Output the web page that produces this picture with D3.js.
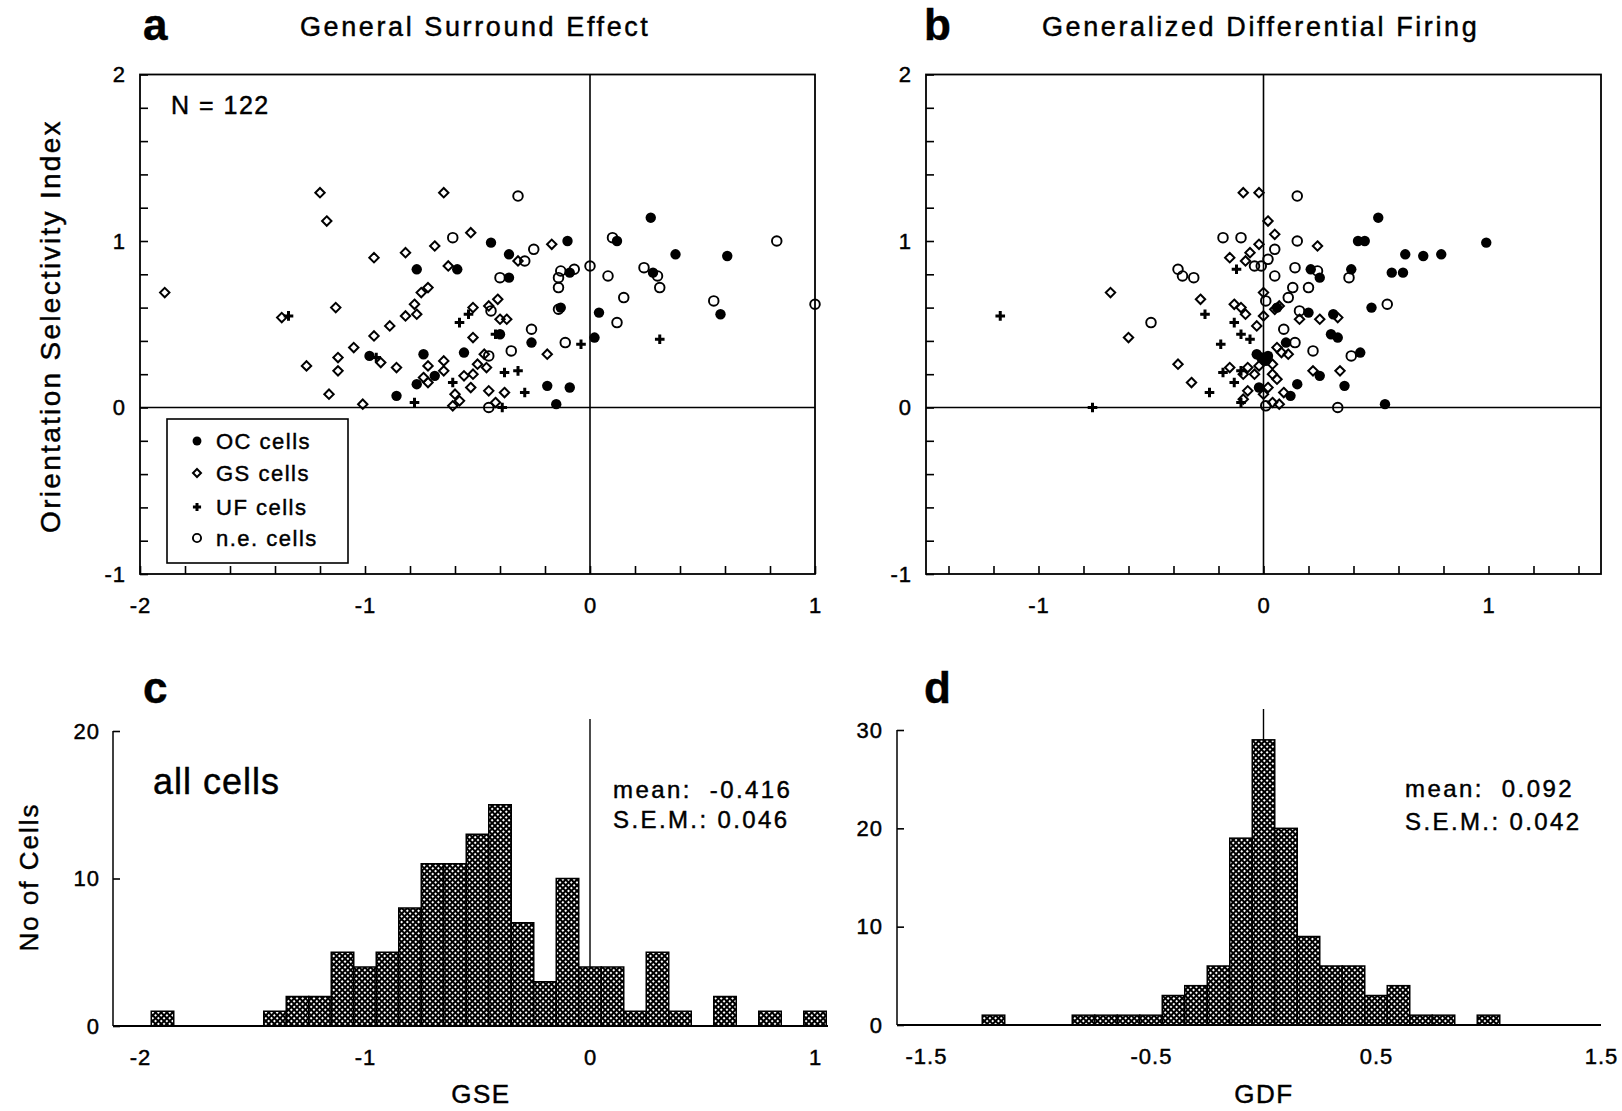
<!DOCTYPE html>
<html>
<head>
<meta charset="utf-8">
<script src="https://cdn.jsdelivr.net/npm/d3@7"></script>
<style>
body { margin: 0; background: #fff; }
svg text { font-family: "Liberation Sans", Arial, Helvetica, sans-serif; fill: #000; stroke: #000; stroke-width: 0.45px; }
</style>
</head>
<body>
<div id="wrapper"></div>
<script>
// panel a: GSE (x) vs orientation selectivity index (y)
const gseOC = [[-0.77,0.83],[-0.59,0.83],[-0.98,0.31],[-0.74,0.32],[-0.56,0.33],[-0.77,0.14],[-0.69,0.19],[-0.86,0.07],
    [0.27,1.14],[-0.44,0.99],[-0.10,1.00],[0.12,1.00],[-0.36,0.92],[0.38,0.92],[0.61,0.91],[-0.36,0.78],[-0.09,0.81],
    [0.28,0.81],[-0.13,0.60],[0.04,0.57],[0.58,0.56],[-0.40,0.44],[-0.26,0.39],[0.02,0.42],[-0.19,0.13],[-0.09,0.12],[-0.15,0.02]]
const gseGS = [[-1.20,1.29],[-1.17,1.12],[-0.65,1.29],[-0.53,1.05],[-0.69,0.97],[-0.82,0.93],[-0.96,0.90],[-0.63,0.85],
    [-1.89,0.69],[-0.72,0.72],[-0.75,0.69],[-0.78,0.62],[-1.13,0.60],[-0.77,0.56],[-0.82,0.55],[-1.37,0.54],[-0.89,0.49],
    [-0.96,0.43],[-1.05,0.36],[-1.12,0.30],[-1.12,0.22],[-1.26,0.25],[-0.93,0.27],[-0.86,0.24],[-1.16,0.08],[-1.01,0.02],
    [-0.52,0.60],[-0.52,0.42],[-0.72,0.25],[-0.65,0.28],[-0.65,0.22],[-0.72,0.15],[-0.74,0.18],[-0.56,0.19],[-0.52,0.20],
    [-0.53,0.12],[-0.50,0.26],[-0.60,0.08],[-0.58,0.04],[-0.61,0.01],[-0.17,0.98],[-0.32,0.88],[-0.41,0.65],[-0.45,0.61],
    [-0.40,0.53],[-0.37,0.53],[-0.19,0.32],[-0.47,0.32],[-0.46,0.24],[-0.45,0.10],[-0.38,0.09],[-0.42,0.03]]
const gseUF = [[-1.34,0.55],[-0.58,0.51],[-0.54,0.56],[-0.61,0.15],[-0.78,0.03],[-0.04,0.38],[0.31,0.41],[-0.38,0.21],
    [-0.32,0.22],[-0.29,0.09],[-0.39,0.00],[-0.42,0.44],[-0.95,0.30]]
const gseNE = [[-0.61,1.02],[-0.32,1.27],[-0.25,0.95],[-0.29,0.88],[-0.40,0.78],[-0.13,0.82],[-0.07,0.83],[-0.14,0.78],
    [-0.14,0.72],[0.00,0.85],[0.10,1.02],[0.08,0.79],[0.24,0.84],[0.30,0.79],[0.31,0.72],[0.15,0.66],[0.55,0.64],[0.83,1.00],
    [1.00,0.62],[0.12,0.51],[-0.26,0.47],[-0.11,0.39],[-0.35,0.34],[-0.45,0.31],[-0.44,0.58],[-0.45,0.00],[-0.14,0.59]]

// panel b: GDF (x) vs orientation selectivity index (y)
const gdfOC = [[0.51,1.14],[0.42,1.00],[0.45,1.00],[0.21,0.83],[0.25,0.78],[0.39,0.83],[0.57,0.81],[0.48,0.60],[0.06,0.60],
    [0.20,0.57],[0.31,0.56],[0.30,0.44],[0.33,0.42],[0.10,0.39],[0.43,0.33],[-0.03,0.32],[-0.01,0.30],[0.02,0.31],[0.01,0.28],
    [0.25,0.19],[0.36,0.13],[0.15,0.14],[0.12,0.07],[-0.02,0.12],[0.54,0.02],[0.99,0.99],[0.63,0.92],[0.71,0.91],[0.79,0.92],[0.62,0.81]]
const gdfGS = [[-0.68,0.69],[-0.60,0.42],[-0.09,1.29],[-0.02,1.29],[0.02,1.12],[0.05,1.04],[-0.02,0.98],[-0.06,0.93],
    [-0.15,0.90],[-0.08,0.88],[0.24,0.97],[-0.28,0.65],[0.00,0.69],[-0.13,0.62],[-0.10,0.60],[-0.08,0.56],[0.00,0.55],
    [0.07,0.61],[0.05,0.59],[-0.03,0.49],[0.16,0.53],[0.25,0.53],[0.33,0.54],[0.06,0.36],[0.08,0.33],[0.11,0.32],[-0.38,0.26],
    [-0.32,0.15],[-0.15,0.24],[-0.07,0.24],[-0.09,0.20],[-0.04,0.20],[-0.02,0.25],[0.04,0.26],[0.04,0.20],[0.06,0.17],
    [-0.07,0.10],[0.02,0.12],[0.00,0.08],[0.09,0.09],[-0.09,0.05],[0.04,0.03],[0.07,0.02],[0.22,0.22],[0.34,0.22]]
const gdfUF = [[-1.17,0.55],[-0.76,0.00],[-0.12,0.83],[-0.26,0.56],[-0.13,0.51],[-0.10,0.44],[-0.06,0.41],[-0.19,0.38],
    [-0.18,0.21],[-0.10,0.22],[-0.13,0.15],[-0.24,0.09],[-0.10,0.03]]
const gdfNE = [[-0.50,0.51],[0.15,1.27],[-0.18,1.02],[-0.10,1.02],[0.15,1.00],[0.05,0.95],[0.02,0.89],[-0.04,0.85],
    [-0.01,0.85],[-0.38,0.83],[-0.36,0.79],[-0.31,0.78],[0.14,0.84],[0.24,0.82],[0.05,0.79],[0.38,0.78],[0.20,0.72],
    [0.13,0.72],[0.11,0.66],[0.01,0.64],[0.55,0.62],[0.16,0.58],[0.09,0.47],[0.14,0.39],[0.22,0.34],[0.39,0.31],[0.33,0.00],[0.01,0.01]]

// panels c and d: histograms, bin centres (width 0.1) and counts
const gseBins = [-1.9,-1.4,-1.3,-1.2,-1.1,-1.0,-0.9,-0.8,-0.7,-0.6,-0.5,-0.4,-0.3,-0.2,-0.1,0,0.1,0.2,0.3,0.4,0.6,0.8,1.0]
const gseCounts = [1,1,2,2,5,4,5,8,11,11,13,15,7,3,10,4,4,1,5,1,2,1,1]
const gdfBins = [-1.2,-0.8,-0.7,-0.6,-0.5,-0.4,-0.3,-0.2,-0.1,0,0.1,0.2,0.3,0.4,0.5,0.6,0.7,0.8,1.0]
const gdfCounts = [1,1,1,1,1,3,4,6,19,29,20,9,6,6,3,4,1,1,1]

// tick values
const osiTicks = d3.range(-5, 11).map(i => i / 5)
const gseTicks = d3.range(-10, 6).map(i => i / 5)
const gdfTicks = d3.range(-7, 8).map(i => i / 5)
const gseLabels = [-2, -1, 0, 1]
const gdfLabels = [-1.5, -0.5, 0.5, 1.5]
const countTicksC = [0, 10, 20]
const countTicksD = [0, 10, 20, 30]
const legendLabels = ['OC cells', 'GS cells', 'UF cells', 'n.e. cells']

const svg = d3.select('#wrapper').append('svg')
    .attr('width', 1622)
    .attr('height', 1111)

const defs = svg.append('defs')
const hatch = defs.append('pattern')
    .attr('id', 'hatch')
    .attr('patternUnits', 'userSpaceOnUse')
    .attr('width', 4).attr('height', 4)
    .attr('patternTransform', 'rotate(45)')
hatch.append('rect').attr('width', 4).attr('height', 4).attr('fill', '#fff')
hatch.append('path').attr('d', 'M0,2H4M2,0V4').attr('stroke', '#000').attr('stroke-width', 2)

const gseX = d3.scaleLinear().domain([-2, 1]).range([140, 815])
const gdfX = d3.scaleLinear().domain([-1.5, 1.5]).range([926, 1601])
const osiY = d3.scaleLinear().domain([-1, 2]).range([574, 74.5])
const cY = d3.scaleLinear().domain([0, 20]).range([1026, 731])
const dY = d3.scaleLinear().domain([0, 30]).range([1025, 730])

const intLabel = d => Math.abs(d - Math.round(d)) < 1e-9 ? String(Math.round(d)) : ''

function styleAxis(g, size) {
    g.select('.domain').remove()
    g.selectAll('.tick line').attr('stroke', '#000').attr('stroke-width', 1.6)
    g.selectAll('.tick text').attr('font-size', size || 22).style('letter-spacing', '1px')
}

const diamond = r => `M0,${-r}L${r},0L0,${r}L${-r},0Z`
const plus = r => `M${-r},0H${r}M0,${-r}V${r}`

function drawMarker(sel, kind, s) {
    if (kind == 'oc') {
        sel.append('circle').attr('r', 5.2 * s).attr('fill', '#000')
    } else if (kind == 'gs') {
        sel.append('path').attr('d', diamond(4.7 * s)).attr('fill', 'none').attr('stroke', '#000').attr('stroke-width', 2)
    } else if (kind == 'uf') {
        sel.append('path').attr('d', plus(4.8 * s)).attr('stroke', '#000').attr('stroke-width', 3)
    } else {
        sel.append('circle').attr('r', 4.8 * s).attr('fill', 'none').attr('stroke', '#000').attr('stroke-width', 1.9)
    }
}

function scatterPanel(xScale, xTicks, groups) {
    const left = xScale.range()[0]
    const right = xScale.range()[1]
    const top = osiY(2)
    const bottom = osiY(-1)
    const g = svg.append('g')

    g.append('g')
        .attr('transform', `translate(${left},0)`)
        .call(d3.axisLeft(osiY).tickValues(osiTicks).tickSizeInner(-8).tickSizeOuter(0).tickPadding(14).tickFormat(intLabel))
        .call(styleAxis)
    g.append('g')
        .attr('transform', `translate(0,${bottom})`)
        .call(d3.axisBottom(xScale).tickValues(xTicks).tickSizeInner(-8).tickSizeOuter(0).tickPadding(23).tickFormat(intLabel))
        .call(styleAxis)

    g.append('rect')
        .attr('x', left).attr('y', top)
        .attr('width', right - left).attr('height', bottom - top)
        .attr('fill', 'none').attr('stroke', '#000').attr('stroke-width', 1.8)
    g.append('line')
        .attr('x1', xScale(0)).attr('x2', xScale(0))
        .attr('y1', top).attr('y2', bottom)
        .attr('stroke', '#000').attr('stroke-width', 1.6)
    g.append('line')
        .attr('x1', left).attr('x2', right)
        .attr('y1', osiY(0)).attr('y2', osiY(0))
        .attr('stroke', '#000').attr('stroke-width', 1.6)

    groups.forEach(([kind, data]) => {
        g.append('g').selectAll('g')
            .data(data)
            .join('g')
            .attr('transform', d => `translate(${xScale(d[0])},${osiY(d[1])})`)
            .each(function () { drawMarker(d3.select(this), kind, 1) })
    })
    return g
}

function histPanel(xScale, yScale, bins, counts, axisX, baseRight, yTicks, xLabels, zeroTop, yPad) {
    const g = svg.append('g')
    const bars = d3.zip(bins, counts)

    g.append('line')
        .attr('x1', xScale(0)).attr('x2', xScale(0))
        .attr('y1', zeroTop).attr('y2', yScale(0))
        .attr('stroke', '#000').attr('stroke-width', 1.4)

    g.selectAll('rect.bar')
        .data(bars)
        .join('rect')
        .attr('class', 'bar')
        .attr('x', d => xScale(d[0] - 0.05))
        .attr('width', xScale(0.1) - xScale(0))
        .attr('y', d => yScale(d[1]))
        .attr('height', d => yScale(0) - yScale(d[1]))
        .attr('fill', 'url(#hatch)')
        .attr('stroke', '#000')
        .attr('stroke-width', 1.5)

    g.append('g')
        .attr('transform', `translate(${axisX},0)`)
        .call(d3.axisLeft(yScale).tickValues(yTicks).tickSizeInner(-7).tickSizeOuter(0).tickPadding(yPad).tickFormat(d => String(d)))
        .call(ax => {
            styleAxis(ax)
            ax.append('line').attr('y1', yScale.range()[0]).attr('y2', yScale.range()[1])
                .attr('stroke', '#000').attr('stroke-width', 1.5)
        })

    g.append('line')
        .attr('x1', axisX).attr('x2', baseRight)
        .attr('y1', yScale(0)).attr('y2', yScale(0))
        .attr('stroke', '#000').attr('stroke-width', 1.8)

    g.append('g')
        .attr('transform', `translate(0,${yScale(0)})`)
        .call(d3.axisBottom(xScale).tickValues(xLabels).tickSize(0).tickPadding(23).tickFormat(d => String(d)))
        .call(styleAxis)
    return g
}

// panels a and b
const panelA = scatterPanel(gseX, gseTicks, [['gs', gseGS], ['ne', gseNE], ['uf', gseUF], ['oc', gseOC]])
scatterPanel(gdfX, gdfTicks, [['gs', gdfGS], ['ne', gdfNE], ['uf', gdfUF], ['oc', gdfOC]])

// legend in panel a
const legend = panelA.append('g')
legend.append('rect')
    .attr('x', 167).attr('y', 419).attr('width', 181).attr('height', 144)
    .attr('fill', '#fff').attr('stroke', '#000').attr('stroke-width', 1.6)
const legendKinds = ['oc', 'gs', 'uf', 'ne']
const legendRows = [441, 473, 507, 538]
legendKinds.forEach((k, i) => {
    const row = legend.append('g').attr('transform', `translate(197,${legendRows[i]})`)
    drawMarker(row, k, 0.85)
    row.append('text')
        .attr('x', 19).attr('dy', '0.36em')
        .attr('font-size', 22)
        .style('letter-spacing', '1.5px')
        .text(legendLabels[i])
})

panelA.append('text')
    .attr('x', 171).attr('y', 114)
    .attr('font-size', 25)
    .style('letter-spacing', '1.5px')
    .text('N = 122')

// panels c and d
const panelC = histPanel(gseX, cY, gseBins, gseCounts, 113, 828, countTicksC, gseLabels, 719, 13)
const panelD = histPanel(gdfX, dY, gdfBins, gdfCounts, 897, 1601, countTicksD, gdfLabels, 709, 14)

panelC.append('text').attr('x', 153).attr('y', 794).attr('font-size', 36).style('letter-spacing', '1px').text('all cells')
panelC.append('text').attr('x', 613).attr('y', 798).attr('font-size', 24).style('letter-spacing', '2.4px').style('white-space', 'pre').text('mean:  -0.416')
panelC.append('text').attr('x', 613).attr('y', 828).attr('font-size', 24).style('letter-spacing', '2.4px').style('white-space', 'pre').text('S.E.M.: 0.046')
panelD.append('text').attr('x', 1405).attr('y', 797).attr('font-size', 24).style('letter-spacing', '2.4px').style('white-space', 'pre').text('mean:  0.092')
panelD.append('text').attr('x', 1405).attr('y', 830).attr('font-size', 24).style('letter-spacing', '2.4px').style('white-space', 'pre').text('S.E.M.: 0.042')

// titles and axis labels
const labels = svg.append('g')
labels.append('text').attr('x', 143).attr('y', 40).attr('font-size', 44).attr('font-weight', 'bold').text('a')
labels.append('text').attr('x', 924).attr('y', 40).attr('font-size', 44).attr('font-weight', 'bold').text('b')
labels.append('text').attr('x', 143).attr('y', 703).attr('font-size', 44).attr('font-weight', 'bold').text('c')
labels.append('text').attr('x', 924).attr('y', 703).attr('font-size', 44).attr('font-weight', 'bold').text('d')
labels.append('text').attr('x', 300).attr('y', 36).attr('font-size', 27).style('letter-spacing', '2.6px').text('General Surround Effect')
labels.append('text').attr('x', 1042).attr('y', 36).attr('font-size', 27).style('letter-spacing', '2.6px').text('Generalized Differential Firing')
labels.append('text')
    .attr('transform', 'translate(60,326) rotate(-90)')
    .attr('text-anchor', 'middle')
    .attr('font-size', 28)
    .style('letter-spacing', '2.3px')
    .text('Orientation Selectivity Index')
labels.append('text')
    .attr('transform', 'translate(38,877) rotate(-90)')
    .attr('text-anchor', 'middle')
    .attr('font-size', 26)
    .style('letter-spacing', '2px')
    .text('No of Cells')
labels.append('text').attr('x', 481).attr('y', 1103).attr('text-anchor', 'middle').attr('font-size', 26).style('letter-spacing', '1.5px').text('GSE')
labels.append('text').attr('x', 1264).attr('y', 1103).attr('text-anchor', 'middle').attr('font-size', 26).style('letter-spacing', '1.5px').text('GDF')
</script>
</body>
</html>
